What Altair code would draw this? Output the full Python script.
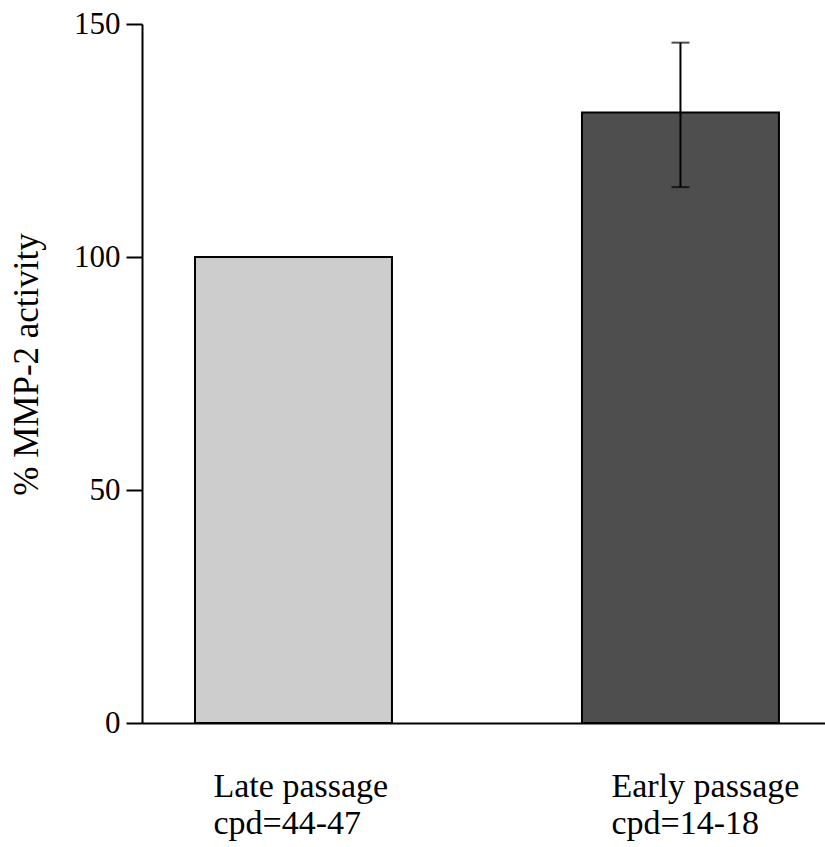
import altair as alt
import pandas as pd

# ---- data ----
groups = ["Late passage", "Early passage"]
cpd_ranges = ["cpd=44-47", "cpd=14-18"]
activity = [100, 131]          # % MMP-2 activity
err_low = [None, 115]          # lower end of error bar
err_high = [None, 146]         # upper end of error bar
y_ticks = [0, 50, 100, 150]

labels = [f"{g}|{c}" for g, c in zip(groups, cpd_ranges)]
df = pd.DataFrame({"label": labels, "value": activity})
err = pd.DataFrame({
    "label": [l for l, lo in zip(labels, err_low) if lo is not None],
    "lo": [lo for lo in err_low if lo is not None],
    "hi": [hi for hi in err_high if hi is not None],
})

FONT = "Liberation Serif"

x_scale = alt.Scale(domain=labels, paddingInner=0.491, paddingOuter=0.128, align=0.535)
y_scale = alt.Scale(domain=[0, 150], nice=False, zero=True)

x_axis = alt.Axis(
    title=None,
    ticks=False,
    domain=True,
    domainColor="black",
    domainWidth=2,
    labelAngle=0,
    labelAlign="left",
    labelBaseline="top",
    labelPadding=46,
    labelLineHeight=37,
    labelLimit=0,
    labelExpr="split(datum.label, '|')",
    labelOffset={"condition": {"test": f"datum.value === '{labels[0]}'", "value": -80}, "value": -69},
    labelFont=FONT,
    labelFontSize=34,
    labelColor="black",
    grid=False,
)

y_axis = alt.Axis(
    title="% MMP-2 activity",
    values=y_ticks,
    tickSize=16,
    tickWidth=2,
    tickColor="black",
    domainColor="black",
    domainWidth=2,
    labelFont=FONT,
    labelFontSize=31,
    labelColor="black",
    labelPadding=6,
    grid=False,
    titleFont=FONT,
    titleFontSize=35,
    titleFontWeight="normal",
    titleColor="black",
    titleAngle=270,
    titleX=-116,
    titleY=340,
    titleAlign="center",
    titleBaseline="middle",
)

bars = alt.Chart(df).mark_bar(stroke="black", strokeWidth=2).encode(
    x=alt.X("label:N", scale=x_scale, axis=x_axis, sort=labels),
    y=alt.Y("value:Q", scale=y_scale, axis=y_axis),
    fill=alt.Fill("label:N", scale=alt.Scale(domain=labels, range=["#cdcdcd", "#4e4e4e"]), legend=None),
)

rule = alt.Chart(err).mark_rule(color="black", strokeWidth=2).encode(
    x=alt.X("label:N", scale=x_scale, sort=labels),
    y=alt.Y("lo:Q", scale=y_scale),
    y2="hi:Q",
)

cap_hi = alt.Chart(err).mark_tick(color="black", thickness=2, size=18).encode(
    x=alt.X("label:N", scale=x_scale, sort=labels),
    y=alt.Y("hi:Q", scale=y_scale),
)
cap_lo = alt.Chart(err).mark_tick(color="black", thickness=2, size=18).encode(
    x=alt.X("label:N", scale=x_scale, sort=labels),
    y=alt.Y("lo:Q", scale=y_scale),
)

chart = alt.layer(bars, rule, cap_hi, cap_lo).properties(
    width=683,
    height=699,
    autosize=alt.AutoSizeParams(type="none"),
    padding={"left": 142, "top": 24, "right": 0, "bottom": 124},
    background="white",
).configure_view(stroke=None)

chart.save("out.html", embed_options={"renderer": "svg", "actions": False})
